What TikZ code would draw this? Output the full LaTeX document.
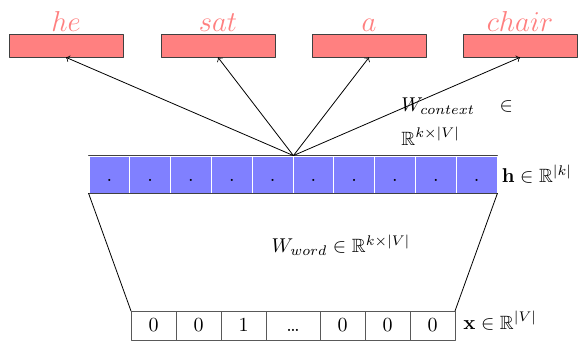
\documentclass[tikz,border=0pt]{standalone}
\usepackage{amssymb}
\begin{document}
\begin{tikzpicture}[x=0.5pt,y=-0.5pt,line cap=round,line join=round,
  outbox/.style={draw=black!75,fill=red!50,minimum width=57pt,minimum height=11.5pt,inner sep=0pt},
  word/.style={text=red!50,font=\Large,inner sep=1pt},
  hcell/.style={draw=white,fill=blue!50,minimum width=20.4pt,minimum height=18.5pt,text height=7.5pt,inner sep=0pt},
  xcell/.style={draw=black!65,minimum height=14.5pt,text height=6.5pt,text depth=0pt,inner sep=0pt,outer sep=0pt},
  lbl/.style={font=\fontsize{9.6}{11}\selectfont,inner sep=1pt}]
  \useasboundingbox (0,0) rectangle (578,341);
  % output words
  \foreach \w/\cx [count=\i] in {he/66,sat/218,a/369,chair/520}{
    \node[outbox] (o\i) at (\cx,45.5) {};
    \node[word,above] (w\i) at (o\i.north) {$\w$};
  }
  % hidden layer
  \foreach \i in {1,...,10}
    \node[hcell] (h\i) at (89+40.8*\i-20.4,174.5) {$.$};
  \draw[black!75] (h1.north west) -- (h10.north east);
  \draw[black!75] (h1.south west) -- (h10.south east);
  \node[lbl,anchor=west,xshift=1pt] (hl) at (h10.east) {$\mathbf{h}\in\mathbb{R}^{|k|}$};
  \coordinate (hub) at (h5.north east);
  \foreach \i in {1,...,4}
    \draw[->] (hub) -- (o\i.south);
  % input layer
  \node[xcell,minimum width=22.5pt,anchor=west] (x1) at (131,325.5) {0};
  \foreach \v/\w [count=\i from 2,remember=\i as \j (initially 1)] in {0/22.5,1/22.5,\ldots/27,0/22.5,0/22.5,0/22.5}
    \node[xcell,minimum width=\w pt,anchor=west] (x\i) at (x\j.east) {\v};
  \node[lbl,anchor=north west,xshift=3pt,yshift=1pt] (xl) at (x7.north east) {$\mathbf{x}\in\mathbb{R}^{|V|}$};
  \draw (h1.south west) -- (x1.north west);
  \draw (h10.south east) -- (x7.north east);
  % weights
  \node[lbl] (ww) at (341,245) {$W_{word}\in\mathbb{R}^{k\times|V|}$};
  \node[lbl,align=left,anchor=north west] (wc) at (399,95) {$W_{context}\quad\in$\\[6pt]$\mathbb{R}^{k\times|V|}$};
\end{tikzpicture}
\end{document}
